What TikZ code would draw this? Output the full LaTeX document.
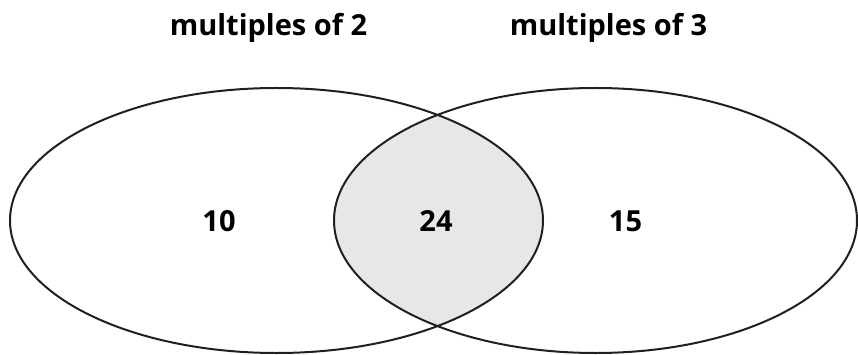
\documentclass[tikz,border=0pt]{standalone}
\usepackage{fontspec}
\setmainfont{Open Sans}[BoldFont={* Bold}]
\definecolor{inkc}{HTML}{231F20}
\definecolor{lensc}{HTML}{E6E7E8}
\begin{document}
\begin{tikzpicture}[x=1pt,y=-1pt,
  setline/.style={draw=inkc,line width=2pt},
  lbl/.style={anchor=base,inner sep=0pt,text=black,font=\fontsize{29}{34}\selectfont\bfseries}]
\useasboundingbox (0,0) rectangle (858,355);
\begin{scope}
  \clip (276.5,220.5) ellipse [x radius=266.5,y radius=132.5];
  \fill[lensc] (595.5,220.5) ellipse [x radius=261.5,y radius=132.5];
\end{scope}
\draw[setline] (276.5,220.5) ellipse [x radius=266.5,y radius=132.5];
\draw[setline] (595.5,220.5) ellipse [x radius=261.5,y radius=132.5];
\node[lbl] (t2) at (268.5,36) {multiples of 2};
\node[lbl] (t3) at (608.5,36) {multiples of 3};
\node[lbl] (n10) at (219,231) {10};
\node[lbl] (n24) at (436,231) {24};
\node[lbl] (n15) at (625.5,231) {15};
\end{tikzpicture}
\end{document}
